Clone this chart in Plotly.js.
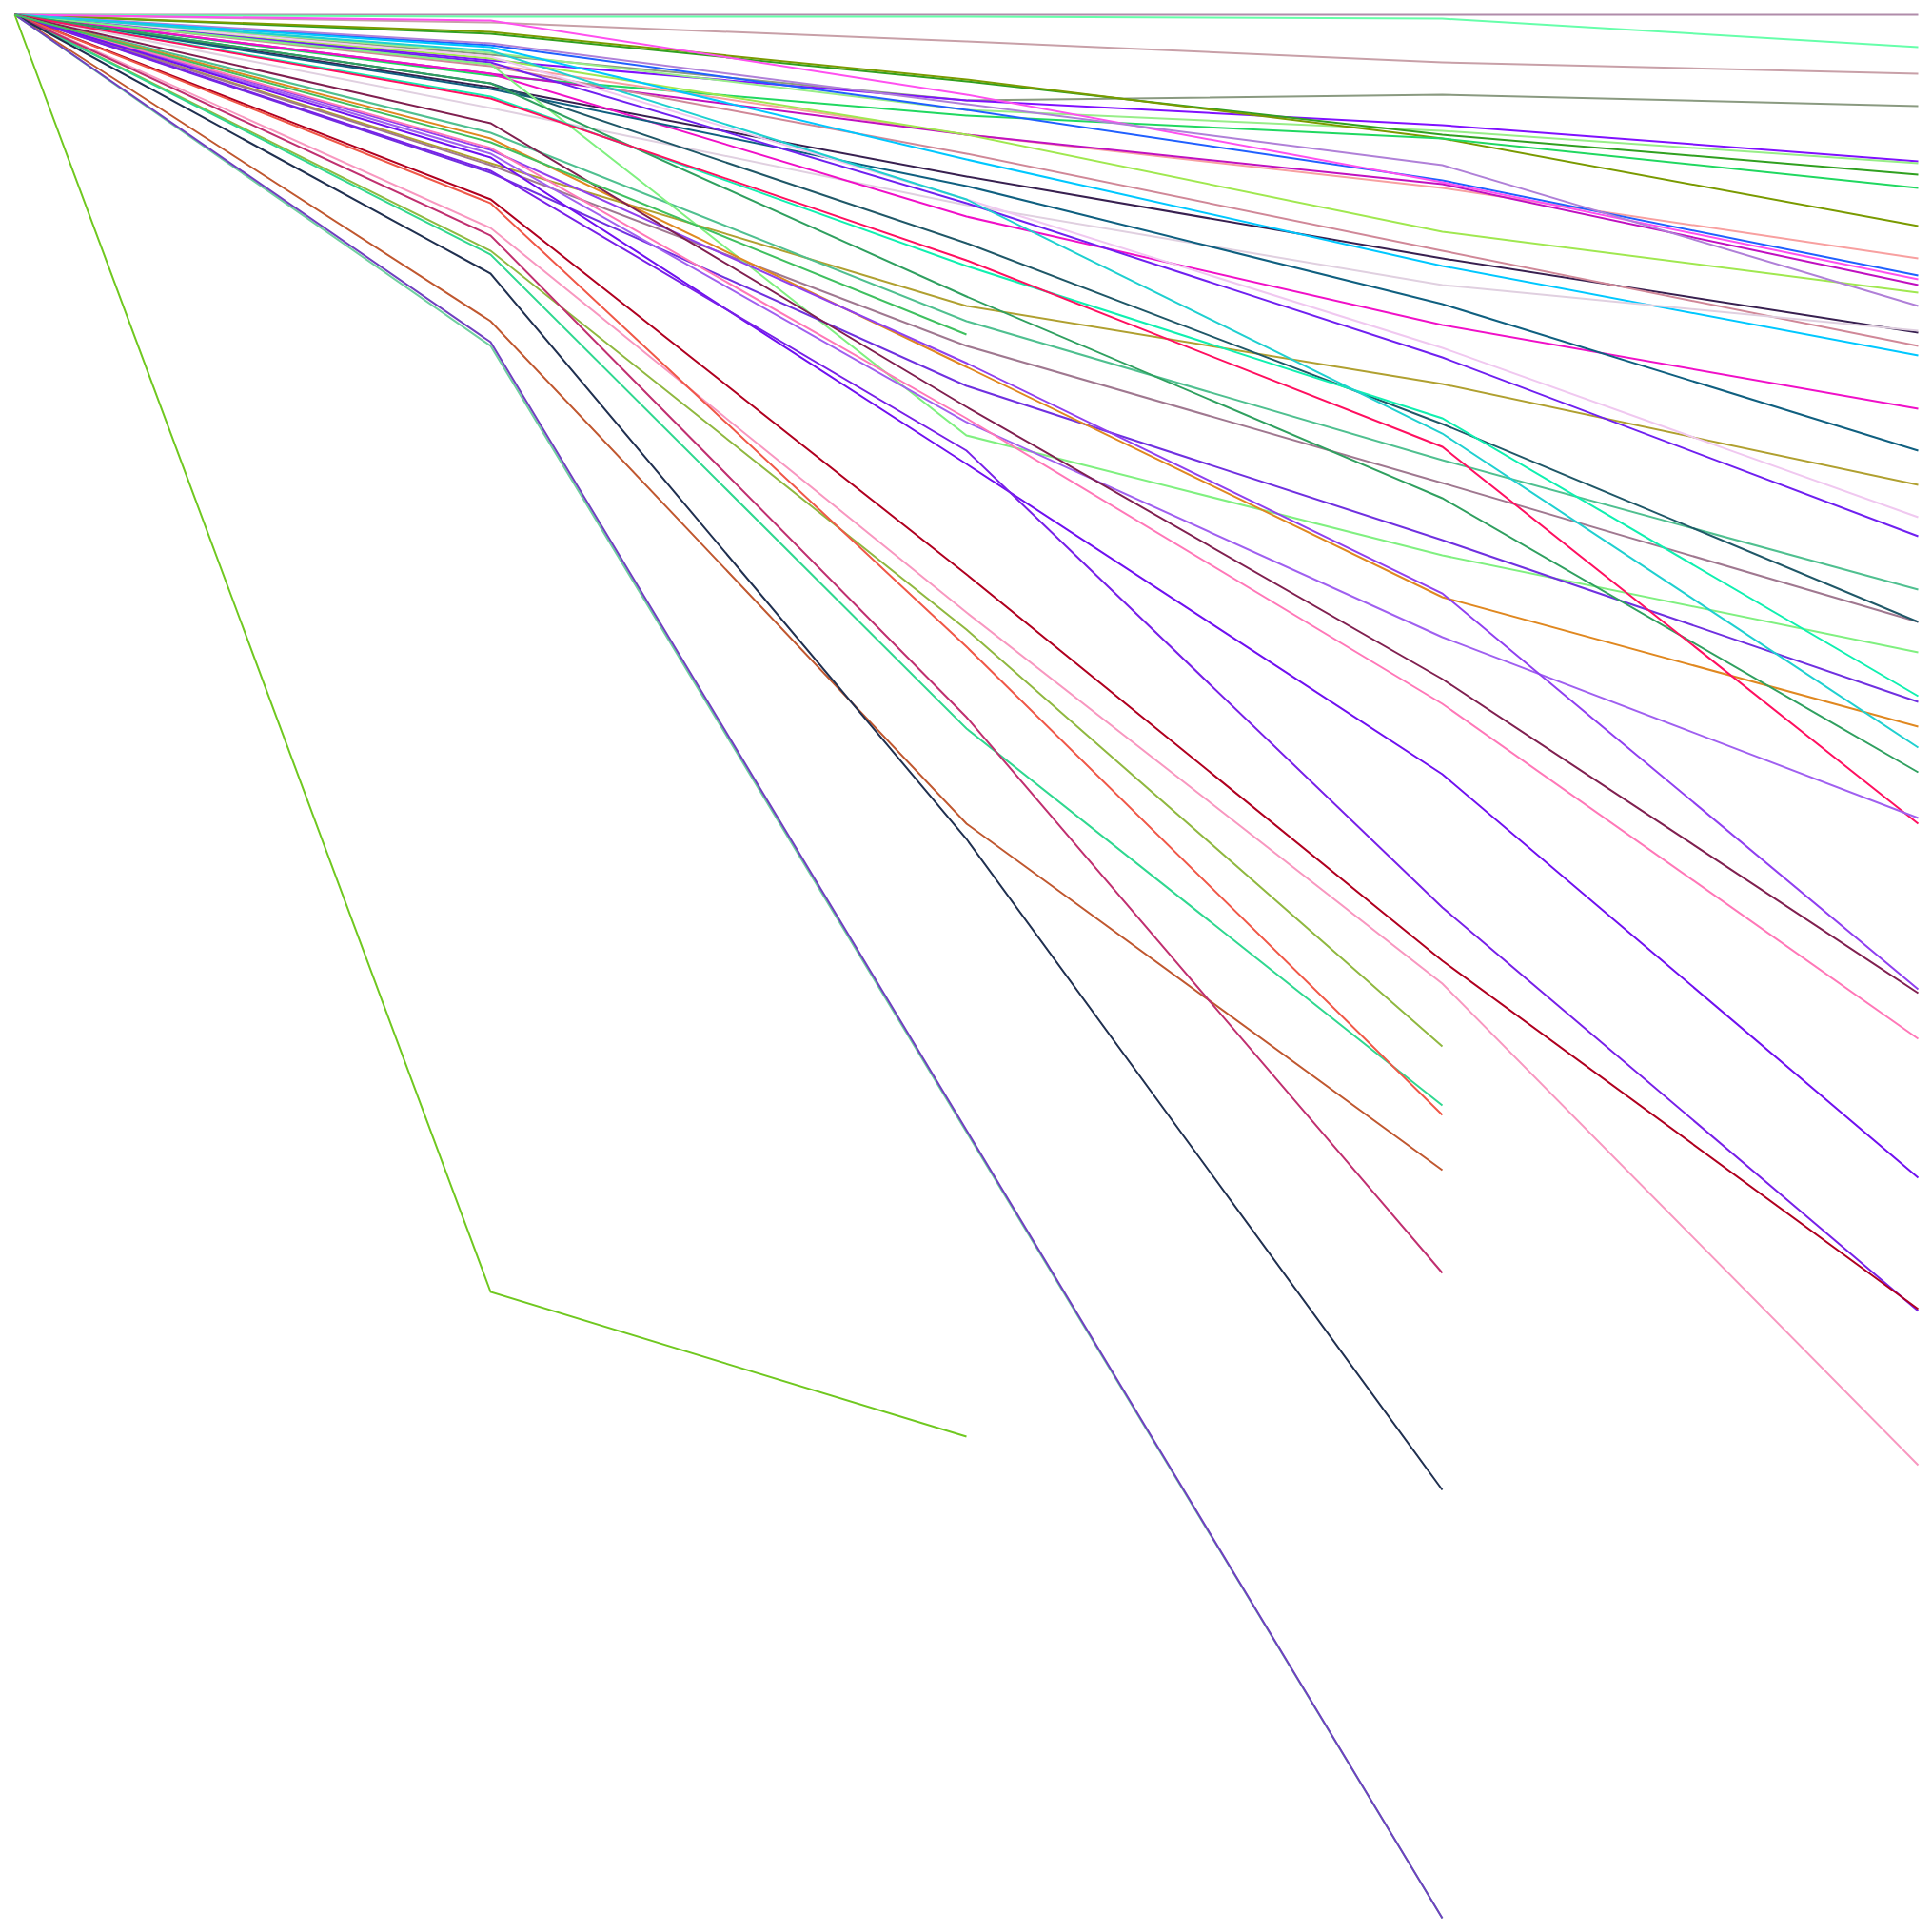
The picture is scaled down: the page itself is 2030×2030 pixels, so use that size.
<!DOCTYPE html>
<html>
<head>
<meta charset="utf-8">
<script src="https://cdn.plot.ly/plotly-3.0.1.min.js"></script>
<style>html,body{margin:0;padding:0;background:#fff;}#chart{width:2030px;height:2030px;}</style>
</head>
<body>
<div id="chart"></div>
<script>
// Step positions along the x axis
const steps = [0, 1, 2, 3, 4];

// Series values, one array per line
const seriesValues = [
  [100, 100, 100, 100, 100],
  [100, 99.9, 99.9, 99.8, 98.3],
  [100, 99.6, 98.6, 97.5, 96.9],
  [100, 97.9, 95.5, 95.8, 95.2],
  [100, 97.6, 95.5, 94.2, 92.3],
  [100, 98.0, 95.0, 93.9, 92.2],
  [100, 99.0, 96.5, 93.7, 91.6],
  [100, 99.1, 96.6, 93.5, 88.9],
  [100, 96.8, 94.7, 93.5, 90.9],
  [100, 97.4, 93.7, 90.9, 87.2],
  [100, 98.4, 95.0, 91.3, 86.3],
  [100, 99.7, 95.8, 91.2, 86.1],
  [100, 96.9, 93.7, 91.1, 85.8],
  [100, 97.7, 93.7, 88.6, 85.4],
  [100, 98.5, 95.3, 92.1, 84.7],
  [100, 96.2, 91.5, 87.2, 83.3],
  [100, 97.3, 92.7, 87.6, 82.6],
  [100, 98.3, 92.4, 86.8, 82.1],
  [100, 95.1, 90.0, 85.8, 83.4],
  [100, 96.9, 89.4, 83.7, 79.3],
  [100, 96.1, 91.0, 84.8, 77.1],
  [100, 92.2, 84.7, 80.6, 75.3],
  [100, 97.8, 90.3, 82.5, 73.6],
  [100, 97.5, 90.1, 82.0, 72.6],
  [100, 93.8, 83.9, 76.6, 69.8],
  [100, 92.1, 82.6, 75.4, 68.1],
  [100, 96.4, 88.0, 78.5, 68.1],
  [100, 97.4, 77.9, 71.6, 66.5],
  [100, 95.7, 86.8, 78.8, 64.2],
  [100, 91.7, 80.5, 72.4, 63.9],
  [100, 93.5, 81.5, 69.4, 62.6],
  [100, 98.1, 90.3, 78.0, 61.5],
  [100, 96.4, 85.2, 74.6, 60.2],
  [100, 95.6, 87.1, 77.3, 57.5],
  [100, 92.7, 78.6, 67.3, 57.8],
  [100, 92.9, 81.7, 69.6, 48.8],
  [100, 94.3, 79.4, 65.1, 48.6],
  [100, 93.0, 78.8, 63.8, 46.2],
  [100, 92.5, 76.4, 60.1, 38.9],
  [100, 91.8, 77.1, 53.1, 31.9],
  [100, 90.3, 70.6, 50.3, 32.0],
  [100, 88.8, 68.6, 49.1, 23.8],
  [100, 87.6, 67.7, 45.8],
  [100, 87.4, 62.5, 42.7],
  [100, 90.1, 66.8, 42.2],
  [100, 83.9, 57.5, 39.3],
  [100, 88.4, 63.1, 33.9],
  [100, 86.4, 56.7, 22.5],
  [100, 82.6, 41.3, 0],
  [100, 82.8, 41.4, 0],
  [100, 32.9, 25.3],
  [100, 93.3, 83.2]
];

// Line colours, same order as seriesValues
const seriesColors = [
  '#b08caa', '#66ffaa', '#c8a0a8', '#8a9a80', '#8010ff', '#98ee88', '#30a020', '#7a9a00',
  '#20d860', '#f8a0a0', '#2060ff', '#ff50f0', '#c010c0', '#a0e850', '#b080d8', '#382050',
  '#d08898', '#00c8ff', '#e0d0e0', '#f010c8', '#106080', '#b0a030', '#f0c8f0', '#7020f0',
  '#50c090', '#a07890', '#205868', '#80f080', '#10f0b0', '#7030e0', '#e08820', '#20d0d0',
  '#30a060', '#ff1060', '#a060f0', '#9040f0', '#802050', '#ff78b8', '#7010f0', '#7820e8',
  '#b00020', '#f898c0', '#90b840', '#30d890', '#f05848', '#c05830', '#c03070', '#203050',
  '#70d0a0', '#7040c0', '#70c820', '#40c060'
];

const traces = seriesValues.map((vals, i) => ({
  x: steps.slice(0, vals.length),
  y: vals,
  type: 'scatter',
  mode: 'lines',
  line: { color: seriesColors[i], width: 2 },
  hoverinfo: 'skip',
  showlegend: false
}));

const pageSize = 2030;
// plot area covers the whole page; ranges put step 0 at 15.5px and step 4 at 2015.5px
const pxPerStep = 500, leftPx = 15.5;
const xRangeFull = [-leftPx / pxPerStep, -leftPx / pxPerStep + pageSize / pxPerStep];
const pxPerUnit = 20, topPx = 15.5;
const yTopVal = 100 + topPx / pxPerUnit;
const yRangeFull = [yTopVal - pageSize / pxPerUnit, yTopVal];

const layout = {
  width: pageSize,
  height: pageSize,
  margin: { l: 0, r: 0, t: 0, b: 0, pad: 0 },
  paper_bgcolor: '#ffffff',
  plot_bgcolor: '#ffffff',
  showlegend: false,
  xaxis: { range: xRangeFull, visible: false, showgrid: false, zeroline: false, fixedrange: true },
  yaxis: { range: yRangeFull, visible: false, showgrid: false, zeroline: false, fixedrange: true }
};

Plotly.newPlot('chart', traces, layout, { displayModeBar: false, staticPlot: true });
</script>
</body>
</html>
